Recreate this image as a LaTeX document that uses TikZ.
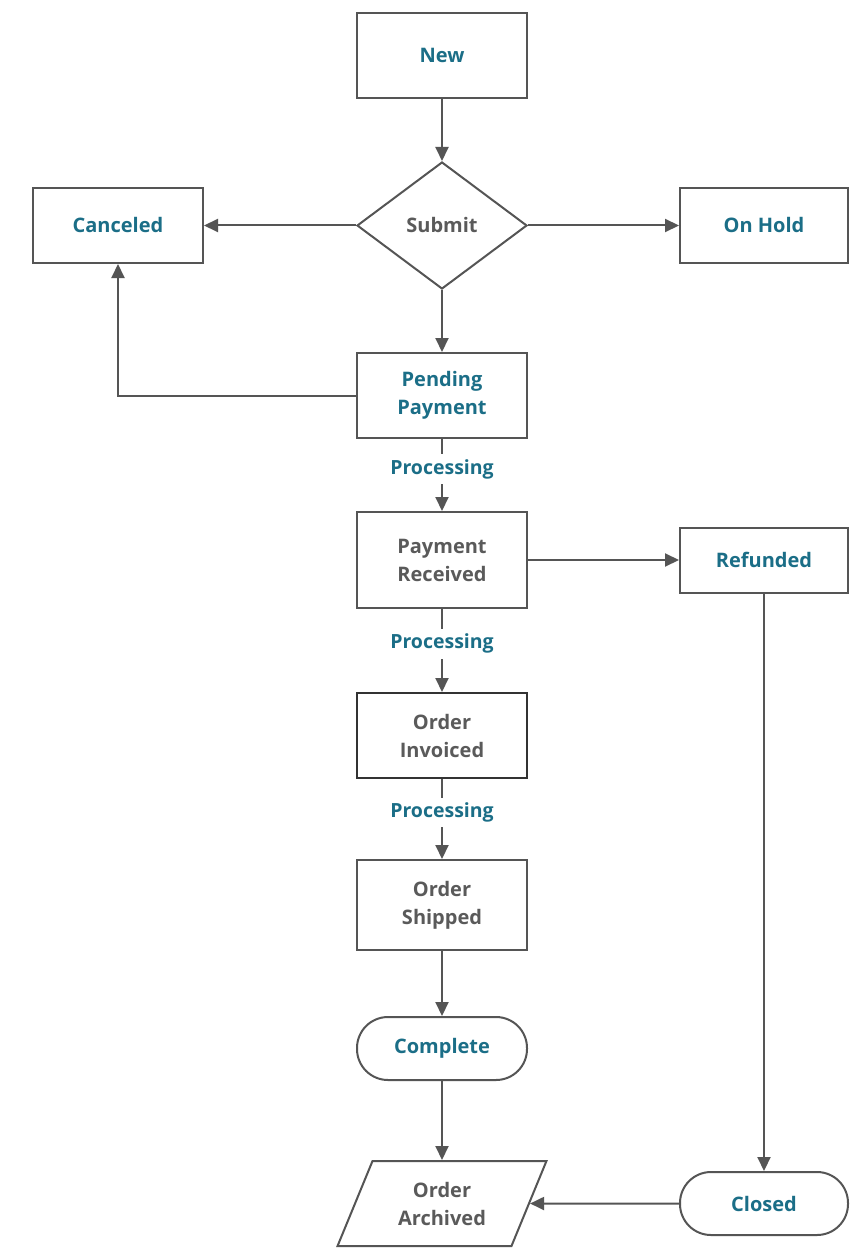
\documentclass[tikz,border=0pt]{standalone}
\usepackage{fontspec}
\setmainfont{Open Sans}
\usetikzlibrary{arrows.meta,shapes.geometric,positioning}
\definecolor{tealc}{HTML}{1B6E87}
\definecolor{gtext}{HTML}{5A5A5A}
\definecolor{gline}{HTML}{555555}
\definecolor{dline}{HTML}{333333}
\tikzset{
  base/.style={draw=gline, line width=2pt, fill=white, align=center, inner sep=0pt,
    font=\fontsize{20}{28}\selectfont\bfseries},
  boxst/.style={base, rectangle, minimum width=170pt},
  tl/.style={text=tealc},
  tg/.style={text=gtext},
  conn/.style={draw=gline, line width=2pt, -{Triangle[length=14pt,width=13pt]}},
  proc/.style={fill=white, text=tealc, inner xsep=2pt, inner ysep=5pt,
    font=\fontsize{19.5}{22}\selectfont\bfseries},
}
\begin{document}
\begin{tikzpicture}[x=1pt,y=-1pt]
\useasboundingbox[fill=white] (0,0) rectangle (849,1257);

\node[boxst,tl,minimum height=85pt] (new) at (442,55.5) {New};
\node[base,tg,diamond,aspect=1.339,minimum width=170pt,minimum height=127pt] (submit) at (442,225.5) {Submit};
\node[boxst,tl,minimum height=75pt] (canceled) at (118,225.5) {Canceled};
\node[boxst,tl,minimum width=168pt,minimum height=75pt] (onhold) at (764,225.5) {On Hold};
\node[boxst,tl,minimum height=85pt] (pending) at (442,395.5) {Pending\\Payment};
\node[boxst,tg,minimum height=96pt] (received) at (442,560) {Payment\\Received};
\node[boxst,tl,minimum width=168pt,minimum height=65pt] (refunded) at (764,560) {Refunded};
\node[boxst,tg,draw=dline,minimum height=85pt] (invoiced) at (442,735.5) {Order\\Invoiced};
\node[boxst,tg,minimum height=90pt] (shipped) at (442,905) {Order\\Shipped};
\node[base,tl,rectangle,rounded corners=31pt,minimum width=170pt,minimum height=63pt] (complete) at (442,1048.5) {Complete};
\node[base,tg,trapezium,trapezium left angle=63,trapezium right angle=117,minimum width=209pt,minimum height=85pt,trapezium stretches=true] (archived) at (442,1203.5) {Order\\Archived};
\node[base,tl,rectangle,rounded corners=31pt,minimum width=168pt,minimum height=63pt] (closed) at (764,1203.5) {Closed};

\draw[conn] (new) -- (submit);
\draw[conn] (submit) -- (canceled);
\draw[conn] (submit) -- (onhold);
\draw[conn] (submit) -- (pending);
\draw[conn] (pending.west) -| (canceled.south);
\draw[conn] (pending) -- node[proc,pos=0.42] (p1) {Processing} (received);
\draw[conn] (received) -- (refunded);
\draw[conn] (received) -- node[proc,pos=0.42] (p2) {Processing} (invoiced);
\draw[conn] (invoiced) -- node[proc,pos=0.42] (p3) {Processing} (shipped);
\draw[conn] (shipped) -- (complete);
\draw[conn] (complete) -- (archived);
\draw[conn] (refunded) -- (closed);
\draw[conn] (closed) -- (archived.east);
\end{tikzpicture}
\end{document}
